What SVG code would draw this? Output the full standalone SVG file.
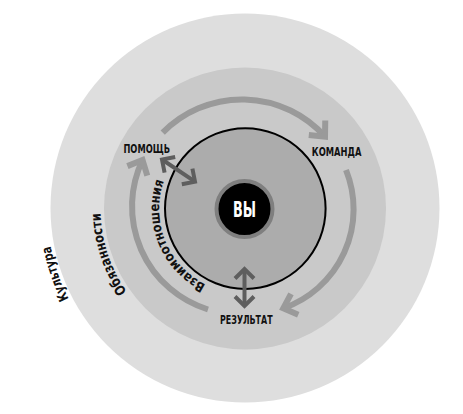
<svg xmlns="http://www.w3.org/2000/svg" xmlns:xlink="http://www.w3.org/1999/xlink" width="463" height="414" viewBox="0 0 463 414">
  <style>
    .lbl { font-family: "Liberation Sans Narrow", "DejaVu Sans Condensed", "Liberation Sans", sans-serif; font-weight: bold; fill: #111; }
    .cyc { fill: none; stroke: #9a9a9a; stroke-width: 6; marker-end: url(#chevGrey); }
    .dbl { fill: none; stroke: #5e5e5e; stroke-width: 4; marker-start: url(#chevDark); marker-end: url(#chevDark); }
  </style>
  <defs>
    <marker id="chevGrey" markerUnits="userSpaceOnUse" markerWidth="40" markerHeight="40" refX="0" refY="0" orient="auto" overflow="visible">
      <path d="M-12,-11 L0,0 L-12,11" fill="none" stroke="#9a9a9a" stroke-width="6"/>
    </marker>
    <marker id="chevDark" markerUnits="userSpaceOnUse" markerWidth="40" markerHeight="40" refX="0" refY="0" orient="auto-start-reverse" overflow="visible">
      <path d="M-9.5,-9.5 L0,0 L-9.5,9.5" fill="none" stroke="#5e5e5e" stroke-width="4"/>
    </marker>
    <path id="pCulture" d="M115.1,357.93 A198,198 0 0 1 50.64,170.72"/>
    <path id="pDuties" d="M169.5,331.71 A144.5,144.5 0 0 1 110.55,155.54"/>
    <path id="pRel" d="M233.17,292.67 A84,84 0 0 1 178.02,156.17"/>
  </defs>

  <g id="ring-culture">
    <circle cx="245" cy="208" r="194.5" fill="#dedede"/>
    <text class="lbl" font-size="13.5"><textPath xlink:href="#pCulture" startOffset="50%" text-anchor="middle" textLength="56" lengthAdjust="spacingAndGlyphs">Культура</textPath></text>
  </g>

  <g id="ring-duties">
    <circle cx="245" cy="208.5" r="141" fill="#c9c9c9"/>
    <text class="lbl" font-size="14"><textPath xlink:href="#pDuties" startOffset="50%" text-anchor="middle" textLength="84" lengthAdjust="spacingAndGlyphs">Обязанности</textPath></text>
  </g>

  <g id="ring-relations">
    <circle cx="245.3" cy="208.6" r="80.3" fill="#acacac" stroke="#000" stroke-width="2"/>
    <text class="lbl" font-size="13.5"><textPath xlink:href="#pRel" startOffset="50%" text-anchor="middle" textLength="122" lengthAdjust="spacingAndGlyphs">Взаимоотношения</textPath></text>
  </g>

  <g id="you">
    <circle cx="244.5" cy="209" r="28" fill="#000" stroke="#7f7f7f" stroke-width="4"/>
    <text class="lbl" x="244.5" y="216.5" font-size="21" style="fill:#fff" text-anchor="middle" textLength="23" lengthAdjust="spacingAndGlyphs">ВЫ</text>
  </g>

  <g id="connectors">
    <path class="cyc" d="M162.7,132.7 A111,111 0 0 1 325,136.7"/>
    <path class="cyc" d="M346,170 A105,105 0 0 1 283.3,308.3"/>
    <path class="cyc" d="M208,309.5 A108,108 0 0 1 142.5,160"/>
    <path class="dbl" d="M162,159.5 L195,181.7"/>
    <path class="dbl" d="M244.5,269 L244.5,306"/>
  </g>

  <g id="node-pomosch">
    <text class="lbl" x="146.7" y="152.5" font-size="12" text-anchor="middle" textLength="46.5" lengthAdjust="spacingAndGlyphs">ПОМОЩЬ</text>
  </g>
  <g id="node-komanda">
    <text class="lbl" x="336.6" y="155.8" font-size="12" text-anchor="middle" textLength="49.5" lengthAdjust="spacingAndGlyphs">КОМАНДА</text>
  </g>
  <g id="node-rezultat">
    <text class="lbl" x="246.3" y="324" font-size="12" text-anchor="middle" textLength="52.5" lengthAdjust="spacingAndGlyphs">РЕЗУЛЬТАТ</text>
  </g>
</svg>
